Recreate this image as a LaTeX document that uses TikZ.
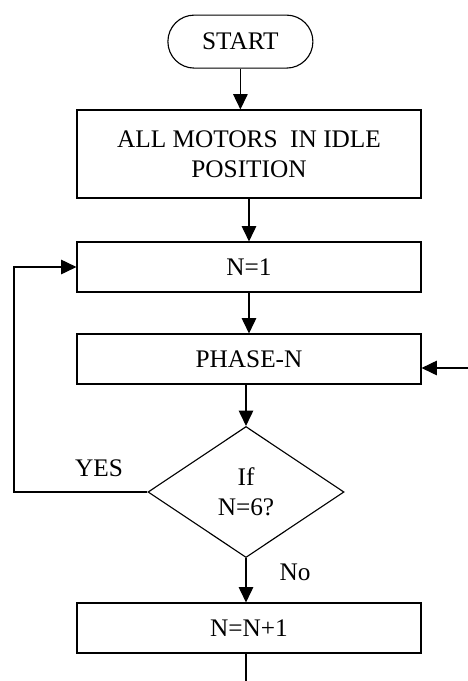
\documentclass[tikz,border=0pt]{standalone}
\usepackage{fontspec}
\setmainfont{Liberation Serif}
\usetikzlibrary{arrows.meta,shapes.geometric}

\begin{document}
\begin{tikzpicture}[
        line width=0.8pt,
        font=\fontsize{18}{21}\selectfont,
        box/.style={draw, minimum width=8.6cm, minimum height=1.25cm, align=center},
        flow/.style={-{Triangle[length=0.38cm, width=0.36cm]}}
    ]
        \useasboundingbox (0, 0) rectangle (11.7, -17.025);

        \node [draw, rounded corners=0.66cm, minimum width=3.625cm, minimum height=1.325cm] (start) at (6.01, -1.04) {START};
        \node [box, minimum height=2.2cm] (motors) at (6.225, -3.85) {ALL MOTORS\ \ IN IDLE\\POSITION};
        \node [box] (n1) at (6.225, -6.675) {N=1};
        \node [box] (phase) at (6.225, -8.975) {PHASE-N};
        \node [draw, diamond, aspect=1.5, inner sep=0pt, minimum width=4.9cm, minimum height=3.275cm, align=center] (check) at (6.15, -12.3) {If\\N=6?};
        \node [box] (incr) at (6.225, -15.7) {N=N+1};

        \node (yes) at (2.475, -11.7) {YES};
        \node (no) at (7.375, -14.3) {No};

        \coordinate (back) at (0.35, -6.6);
        \coordinate (ret) at (11.7, -9.2);
        \coordinate (out) at (6.15, -17.025);

        \draw [flow] (start.south) -- (start.south |- motors.north);
        \draw [flow] (motors) -- (n1);
        \draw [flow] (n1) -- (phase);
        \draw [flow] (check.north |- phase.south) -- (check.north);
        \draw [flow] (check.south) -- (check.south |- incr.north);
        \draw [flow] (check.west) -- (check.west -| back) |- (n1.west);
        \draw [flow] (ret) -- (ret -| phase.east);
        \draw (incr.south -| out) -- (out);
    \end{tikzpicture}
\end{document}
